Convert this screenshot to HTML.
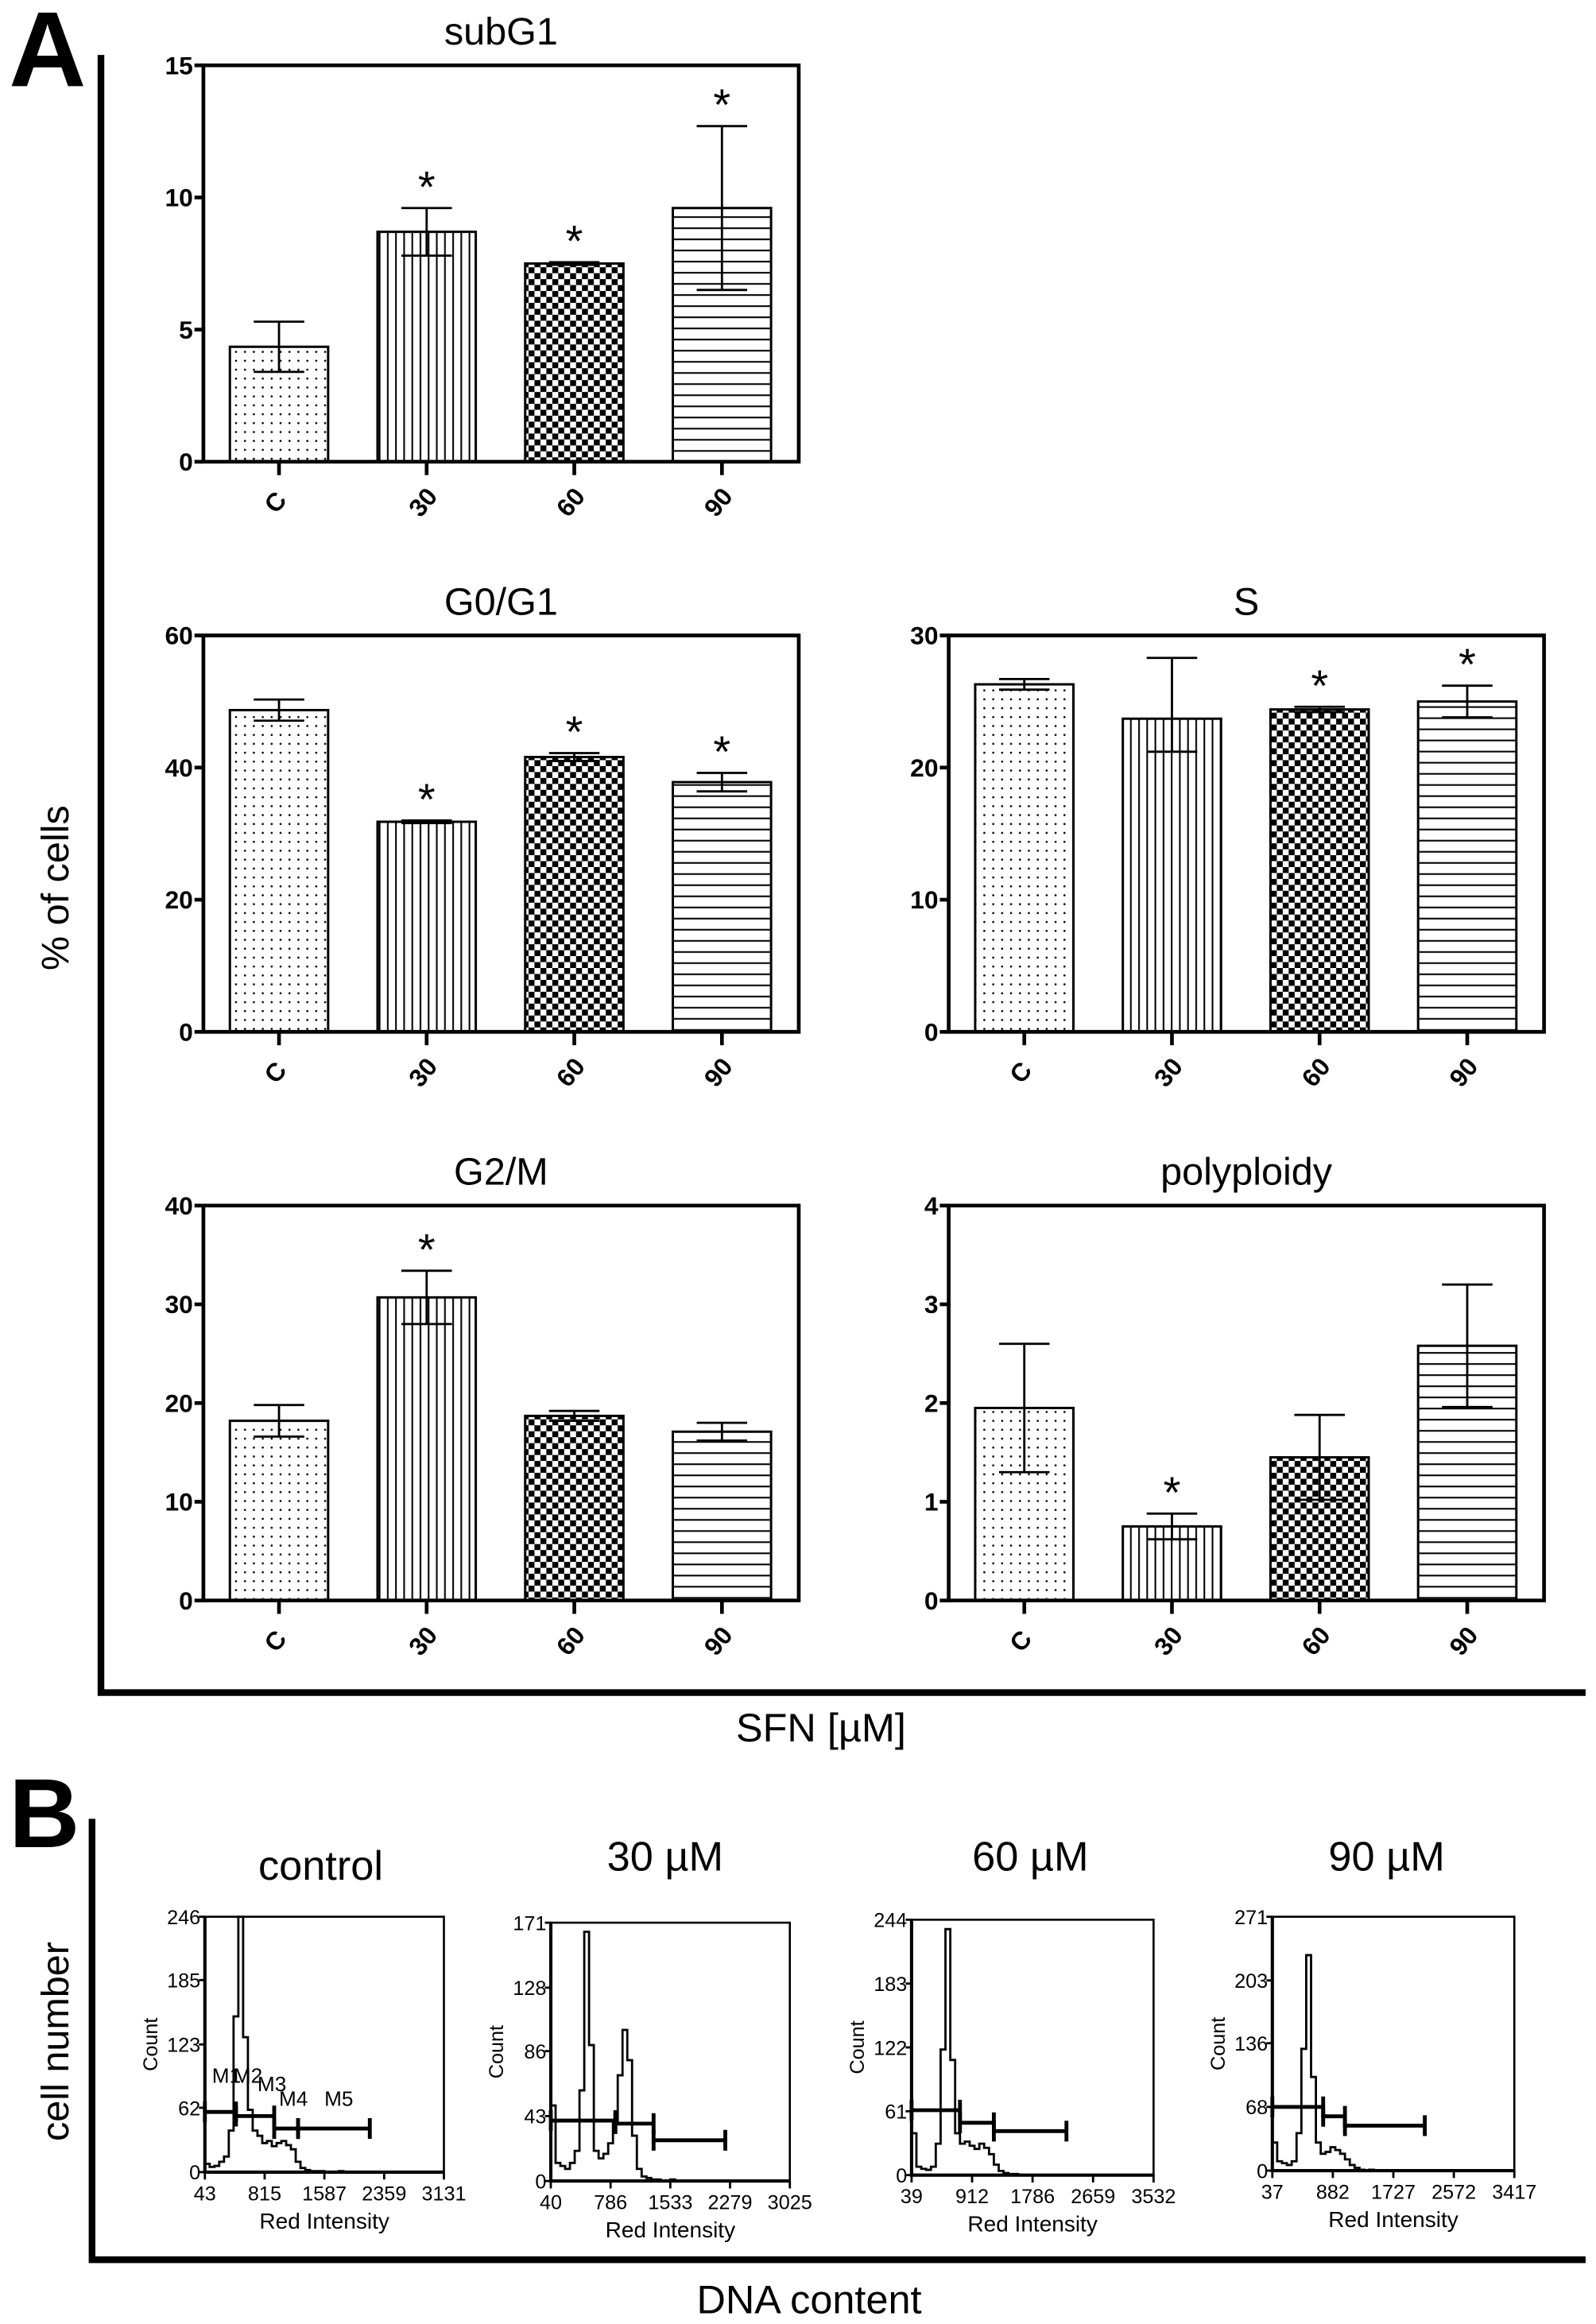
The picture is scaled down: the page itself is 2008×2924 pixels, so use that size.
<!DOCTYPE html>
<html><head><meta charset="utf-8">
<style>
html,body{margin:0;padding:0;background:#fff;}
svg{display:block;}
text{font-family:"Liberation Sans",sans-serif;fill:#000;}
.tk{font-family:"Liberation Sans Narrow","Liberation Sans",sans-serif;font-weight:bold;font-size:17px;}
.ht{font-family:"Liberation Sans Narrow","Liberation Sans",sans-serif;font-size:13.5px;}
</style></head>
<body>
<svg id="fig" width="2008" height="2924" viewBox="0 0 1075 1565.3" preserveAspectRatio="none" xmlns="http://www.w3.org/2000/svg">
<defs>
<pattern id="pDots" width="6" height="6" patternUnits="userSpaceOnUse"><circle cx="3" cy="3" r="0.7" fill="#000"/></pattern>
<pattern id="pVert" width="5.5" height="10" patternUnits="userSpaceOnUse"><line x1="2.7" y1="0" x2="2.7" y2="10" stroke="#000" stroke-width="1.1"/></pattern>
<pattern id="pCheck" width="8" height="8" patternUnits="userSpaceOnUse"><rect x="0" y="0" width="4" height="4" fill="#000"/><rect x="4" y="4" width="4" height="4" fill="#000"/></pattern>
<pattern id="pHor" width="10" height="7.5" patternUnits="userSpaceOnUse"><line x1="0" y1="3.7" x2="10" y2="3.7" stroke="#000" stroke-width="1.1"/></pattern>
</defs>
<text x="6" y="58" style="font-size:72px;font-weight:bold">A</text>
<text x="6" y="1244" style="font-size:66px;font-weight:bold">B</text>
<path d="M68 37 V1140 H1068" fill="none" stroke="#000" stroke-width="4.5"/>
<path d="M62 1225 V1522 H1068" fill="none" stroke="#000" stroke-width="4.5"/>
<text transform="translate(46,598) rotate(-90)" text-anchor="middle" style="font-size:26px">% of cells</text>
<text x="553" y="1173" text-anchor="middle" style="font-size:27px">SFN [µM]</text>
<text transform="translate(46,1375) rotate(-90)" text-anchor="middle" style="font-size:26px">cell number</text>
<text x="545" y="1558" text-anchor="middle" style="font-size:27px">DNA content</text>
<g id="charts"></g>
</svg>
<script>
// ---- bar chart data ----
const categories = ["C","30","60","90"];
const subG1Values = [4.35, 8.7, 7.5, 9.6];
const subG1ErrUp = [0.95, 0.9, 0.05, 3.1];
const subG1ErrDn = [0.95, 0.9, 0.05, 3.1];
const subG1Stars = [false, true, true, true];
const g0g1Values = [48.7, 31.8, 41.6, 37.8];
const g0g1ErrUp = [1.6, 0.2, 0.6, 1.4];
const g0g1ErrDn = [1.6, 0.2, 0.6, 1.4];
const g0g1Stars = [false, true, true, true];
const sValues = [26.3, 23.7, 24.4, 25.0];
const sErrUp = [0.4, 4.6, 0.2, 1.2];
const sErrDn = [0.4, 2.5, 0.2, 1.2];
const sStars = [false, false, true, true];
const g2mValues = [18.2, 30.7, 18.7, 17.1];
const g2mErrUp = [1.6, 2.7, 0.5, 0.9];
const g2mErrDn = [1.6, 2.7, 0.5, 0.9];
const g2mStars = [false, true, false, false];
const polyValues = [1.95, 0.75, 1.45, 2.58];
const polyErrUp = [0.65, 0.13, 0.43, 0.62];
const polyErrDn = [0.65, 0.13, 0.43, 0.62];
const polyStars = [false, true, false, false];
const subG1Ticks = [0,5,10,15];
const g0g1Ticks = [0,20,40,60];
const sTicks = [0,10,20,30];
const g2mTicks = [0,10,20,30,40];
const polyTicks = [0,1,2,3,4];

// ---- histogram data (counts per bin, 2% of axis each) ----
const histControl = [8,5,6,10,15,40,150,246,130,60,40,35,28,30,25,28,30,26,22,10,4,2,1,1,1,0,0,0,1,0,0,0,0,0,0,0,0,0,0,0,0,0,0,0,0,0,0,0,0,0];
const hist30 = [50,12,10,8,12,20,60,165,90,20,15,18,25,40,70,100,80,30,8,3,2,1,1,0,0,1,0,0,0,0,0,0,0,0,0,0,0,0,0,0,0,0,0,0,0,0,0,0,0,0];
const hist60 = [40,8,6,5,8,30,120,235,110,40,30,32,28,25,30,26,20,10,4,2,1,1,0,0,0,0,0,0,0,0,0,0,0,0,0,0,0,0,0,0,0,0,0,0,0,0,0,0,0,0];
const hist90 = [30,10,8,6,10,40,130,230,100,30,18,20,25,22,18,12,6,3,1,0,1,0,0,0,0,0,0,0,0,0,0,0,0,0,0,0,0,0,0,0,0,0,0,0,0,0,0,0,0,0];
const histYTicksControl = [0,62,123,185,246];
const histYTicks30 = [0,43,86,128,171];
const histYTicks60 = [0,61,122,183,244];
const histYTicks90 = [0,68,136,203,271];
const histXTicksControl = ["43","815","1587","2359","3131"];
const histXTicks30 = ["40","786","1533","2279","3025"];
const histXTicks60 = ["39","912","1786","2659","3532"];
const histXTicks90 = ["37","882","1727","2572","3417"];

const NS="http://www.w3.org/2000/svg";
const root=document.getElementById('charts');
function mk(tag,attrs,parent){const e=document.createElementNS(NS,tag);for(const k in attrs)e.setAttribute(k,attrs[k]);(parent||root).appendChild(e);return e;}
const fills=["url(#pDots)","url(#pVert)","url(#pCheck)","url(#pHor)"];

function barChart(name,title,box,ticks,vals,eu,ed,stars){
  const g=mk('g',{});
  
  
  const x0=box[0],x1=box[1],yT=box[2],yB=box[3];
  const ymax=ticks[ticks.length-1];
  const ys=v=>yB-(v/ymax)*(yB-yT);
  const w=x1-x0;
  const xc=i=>x0+w*(0.127+0.248*i);
  const bw=w*0.165;
  const t=mk('text',{x:(x0+x1)/2,y:yT-14,'text-anchor':'middle',style:'font-size:26px'},g);
  t.textContent=title;
  
  
  vals.forEach((v,i)=>{
    mk('rect',{x:xc(i)-bw/2,y:ys(v),width:bw,height:yB-ys(v),fill:'#fff',stroke:'none'},g);
    const r2=mk('rect',{x:xc(i)-bw/2,y:ys(v),width:bw,height:yB-ys(v),fill:fills[i],stroke:'#000','stroke-width':1.6},g);
    
    
    const eg=mk('path',{d:`M${xc(i)} ${ys(v-ed[i])} V${ys(v+eu[i])} M${xc(i)-17} ${ys(v+eu[i])} H${xc(i)+17} M${xc(i)-17} ${ys(v-ed[i])} H${xc(i)+17}`,stroke:'#000','stroke-width':1.5,fill:'none'},g);
    
    
    if(stars[i]){
      const s=mk('text',{x:xc(i),y:ys(v+eu[i])-4,'text-anchor':'middle',style:'font-size:30px'},g);
      s.textContent='*';
      
      
    }
    mk('line',{x1:xc(i),x2:xc(i),y1:yB,y2:yB+9,stroke:'#000','stroke-width':2.5},g);
    const cl=mk('text',{class:'tk','text-anchor':'middle',transform:`translate(${xc(i)+2},${yB+31}) rotate(-50)`},g);
    cl.textContent=categories[i];
    
    
  });
  ticks.forEach(tv=>{
    mk('line',{x1:x0-6,x2:x0,y1:ys(tv),y2:ys(tv),stroke:'#000','stroke-width':2.5},g);
    const tl=mk('text',{class:'tk',x:x0-7,y:ys(tv)+6,'text-anchor':'end'},g);
    tl.textContent=tv;
    
    
  });
  const ax=mk('path',{d:`M${x0} ${yT} V${yB} H${x1} V${yT} Z`,fill:'none',stroke:'#000','stroke-width':2.5},g);
  
  
}
barChart('subg1','subG1',[137,538,44,311],subG1Ticks,subG1Values,subG1ErrUp,subG1ErrDn,subG1Stars);
barChart('g0g1','G0/G1',[137,538,428,695],g0g1Ticks,g0g1Values,g0g1ErrUp,g0g1ErrDn,g0g1Stars);
barChart('s-phase','S',[639,1040,428,695],sTicks,sValues,sErrUp,sErrDn,sStars);
barChart('g2m','G2/M',[137,538,812,1078],g2mTicks,g2mValues,g2mErrUp,g2mErrDn,g2mStars);
barChart('polyploidy','polyploidy',[639,1040,812,1078],polyTicks,polyValues,polyErrUp,polyErrDn,polyStars);

function histo(name,title,box,bins,yt,xt,markers,labels,titleX,titleY){
  const g=mk('g',{});
  
  
  const x0=box[0],x1=box[1],yT=box[2],yB=box[3];
  const ymax=yt[yt.length-1];
  const ys=v=>yB-(v/ymax)*(yB-yT);
  const xs=f=>x0+f*(x1-x0);
  const t=mk('text',{x:titleX,y:titleY,'text-anchor':'middle',style:'font-size:28px'},g);
  t.textContent=title;
  
  
  let d=`M${xs(0)} ${yB}`;
  bins.forEach((c,i)=>{d+=` V${ys(c)} H${xs((i+1)/bins.length)}`;});
  d+=` V${yB}`;
  const p=mk('path',{d:d,fill:'none',stroke:'#000','stroke-width':1.5},g);
  
  
  mk('rect',{x:x0,y:yT,width:x1-x0,height:yB-yT,fill:'none',stroke:'#000','stroke-width':1.4},g);
  mk('path',{d:`M${x0} ${yT} V${yB} H${x1}`,fill:'none',stroke:'#000','stroke-width':2.2},g);
  yt.forEach(v=>{
    mk('line',{x1:x0-4,x2:x0,y1:ys(v),y2:ys(v),stroke:'#000','stroke-width':1.5},g);
    const l=mk('text',{class:'ht',x:x0-3,y:ys(v)+5,'text-anchor':'end'},g);
    l.textContent=v;
    
    
  });
  xt.forEach((v,i)=>{
    const x=xs(i/(xt.length-1));
    mk('line',{x1:x,x2:x,y1:yB,y2:yB+5,stroke:'#000','stroke-width':1.5},g);
    const l=mk('text',{class:'ht',x:x,y:yB+19,'text-anchor':'middle'},g);
    l.textContent=v;
    
    
  });
  const c=mk('text',{class:'ht',transform:`translate(${x0-32},${(yT+yB)/2}) rotate(-90)`,'text-anchor':'middle'},g);
  c.textContent='Count';
  
  
  const r=mk('text',{class:'ht',x:(x0+x1)/2,y:yB+38,'text-anchor':'middle',style:'font-size:15px'},g);
  r.textContent='Red Intensity';
  
  
  markers.forEach(m=>{
    const y=ys(m[2]);
    const mp=mk('path',{d:`M${xs(m[0])} ${y} H${xs(m[1])} M${xs(m[0])} ${y-7} V${y+7} M${xs(m[1])} ${y-7} V${y+7}`,stroke:'#000','stroke-width':2.6,fill:'none'},g);
    
    
  });
  labels.forEach(lb=>{
    const l=mk('text',{x:xs(lb[1]),y:ys(lb[2]),style:'font-size:14px'},g);
    l.textContent=lb[0];
    
    
  });
}
histo('control','control',[138,299,1291,1463],histControl,histYTicksControl,histXTicksControl,
  [[0,0.13,58],[0.13,0.29,54],[0.29,0.39,42],[0.39,0.69,42]],
  [["M1",0.03,86],["M2",0.12,86],["M3",0.22,78],["M4",0.31,64],["M5",0.5,64]],216,1266);
histo('sfn-30','30 µM',[371,532,1295,1469],hist30,histYTicks30,histXTicks30,
  [[0,0.27,40],[0.27,0.43,38],[0.43,0.73,27]],[],448,1260);
histo('sfn-60','60 µM',[614,777,1293,1465],hist60,histYTicks60,histXTicks60,
  [[0,0.2,62],[0.2,0.34,50],[0.34,0.64,42]],[],694,1260);
histo('sfn-90','90 µM',[857,1020,1291,1462],hist90,histYTicks90,histXTicks90,
  [[0,0.21,68],[0.21,0.3,58],[0.3,0.63,48]],[],934,1260);
</script>
</body></html>
